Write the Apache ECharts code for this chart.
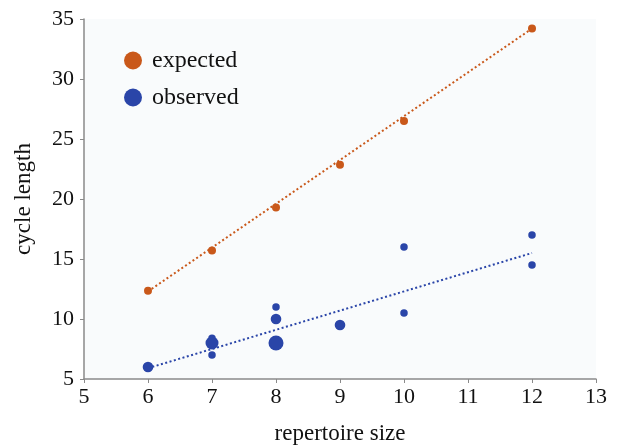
<!DOCTYPE html>
<html>
<head>
<meta charset="utf-8">
<script src="https://cdn.jsdelivr.net/npm/echarts@6/dist/echarts.min.js"></script>
<style>html,body{margin:0;padding:0;background:#fff}#c{width:624px;height:448px}</style>
</head>
<body>
<div id="c"></div>
<script>
// Data
var expX = [6, 7, 8, 9, 10, 12];
var expY = [12.35, 15.7, 19.3, 22.85, 26.5, 34.2];
var obsX = [6, 7, 7, 7, 8, 8, 8, 9, 10, 10, 12, 12];
var obsY = [6, 8.4, 8, 7, 11, 10, 8, 9.5, 16, 10.5, 17, 14.5];
var obsWeight = [2, 1, 3, 1, 1, 2, 4, 2, 1, 1, 1, 1];
var expTrendX = [6, 12];
var expTrendY = [12.3, 34.2];
var obsTrendX = [6, 12];
var obsTrendY = [5.9, 15.5];
var xTicks = [5, 6, 7, 8, 9, 10, 11, 12, 13];
var yTicks = [5, 10, 15, 20, 25, 30, 35];

var ORANGE = '#c9581a';
var BLUE = '#2a45a8';
var FONT = '"Liberation Serif", "DejaVu Serif", serif';

function zip(a, b, c) {
  return a.map(function (v, i) { return c ? [v, b[i], c[i]] : [v, b[i]]; });
}

var chart = echarts.init(document.getElementById('c'), null, {renderer: 'canvas'});
chart.setOption({
  animation: false,
  backgroundColor: '#ffffff',
  grid: {left: 84, right: 28, top: 19, bottom: 69, show: true, backgroundColor: '#f9fbfc', borderWidth: 0,
         containLabel: false, outerBoundsMode: 'none'},
  legend: {
    data: [
      {name: 'expected', icon: 'circle', itemStyle: {color: ORANGE}},
      {name: 'observed', icon: 'circle', itemStyle: {color: BLUE}}
    ],
    orient: 'vertical', left: 124, top: 48, padding: 0, itemWidth: 18, itemHeight: 18, itemGap: 12,
    textStyle: {fontFamily: FONT, fontSize: 24, lineHeight: 25, color: '#111', padding: [0, 0, 0, 5]}
  },
  xAxis: {
    type: 'value', min: xTicks[0], max: xTicks[xTicks.length - 1], interval: 1,
    name: 'repertoire size', nameLocation: 'middle', nameGap: 43,
    nameTextStyle: {fontFamily: FONT, fontSize: 23, color: '#111'},
    axisLine: {lineStyle: {color: '#8a8a8a', width: 1.5}},
    axisTick: {show: true, length: 4, lineStyle: {color: '#8a8a8a'}},
    axisLabel: {fontFamily: FONT, fontSize: 22, color: '#111', margin: 7},
    splitLine: {show: false}
  },
  yAxis: {
    type: 'value', min: yTicks[0], max: yTicks[yTicks.length - 1], interval: 5,
    name: 'cycle length', nameLocation: 'middle', nameGap: 49,
    nameTextStyle: {fontFamily: FONT, fontSize: 23, color: '#111'},
    axisLine: {show: true, lineStyle: {color: '#8a8a8a', width: 1.5}},
    axisTick: {show: true, length: 4, lineStyle: {color: '#8a8a8a'}},
    axisLabel: {fontFamily: FONT, fontSize: 22, color: '#111', margin: 10},
    splitLine: {show: false}
  },
  series: [
    {
      name: 'expected trend', type: 'line', data: zip(expTrendX, expTrendY), showSymbol: false, symbol: 'none',
      lineStyle: {color: ORANGE, width: 2, type: [2, 2.5]}, z: 2, silent: true
    },
    {
      name: 'observed trend', type: 'line', data: zip(obsTrendX, obsTrendY), showSymbol: false, symbol: 'none',
      lineStyle: {color: BLUE, width: 2, type: [2, 2.5]}, z: 2, silent: true
    },
    {
      name: 'expected', type: 'scatter', data: zip(expX, expY), symbolSize: 8,
      itemStyle: {color: ORANGE, opacity: 1}, z: 3
    },
    {
      name: 'observed', type: 'scatter', data: zip(obsX, obsY, obsWeight),
      symbolSize: function (v) { return 7.5 * Math.sqrt(v[2]); },
      itemStyle: {color: BLUE, opacity: 1}, z: 3
    }
  ]
});
</script>
</body>
</html>
